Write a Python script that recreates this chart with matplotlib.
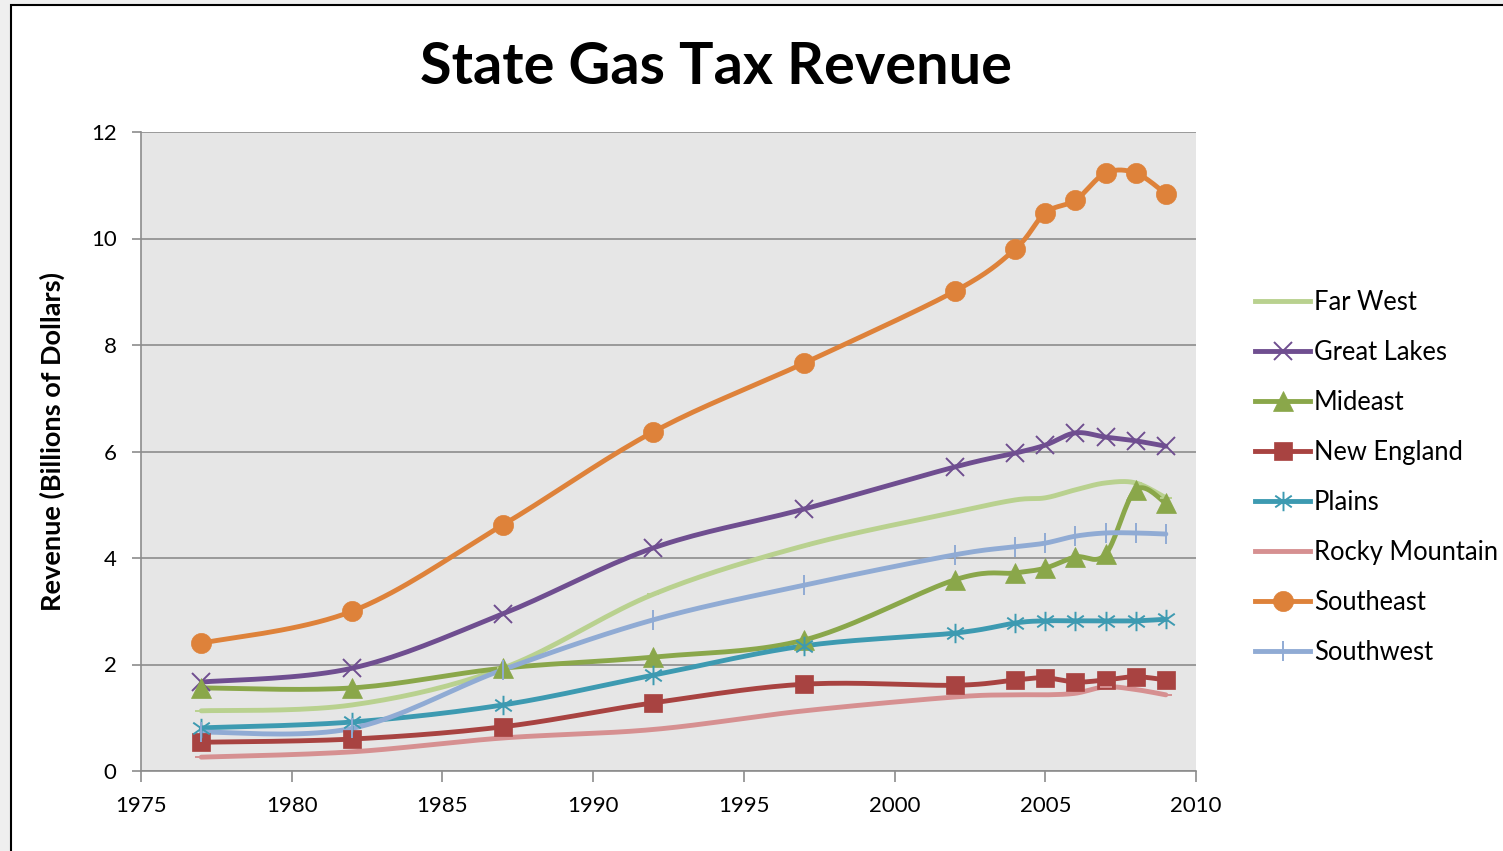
import numpy as np
import matplotlib
matplotlib.use('Agg')
import matplotlib.pyplot as plt
from matplotlib.patches import Rectangle
from matplotlib.path import Path

plt.rcParams['font.family'] = ['Lato', 'DejaVu Sans']

# Data (billions of dollars)
years = [1977, 1982, 1987, 1992, 1997, 2002, 2004, 2005, 2006, 2007, 2008, 2009]

far_west = [1.13, 1.24, 1.93, 3.32, 4.23, 4.86, 5.09, 5.13, 5.28, 5.41, 5.41, 5.13]
great_lakes = [1.67, 1.93, 2.95, 4.19, 4.92, 5.71, 5.97, 6.12, 6.35, 6.27, 6.20, 6.10]
mideast = [1.56, 1.56, 1.93, 2.14, 2.46, 3.59, 3.72, 3.81, 4.02, 4.07, 5.28, 5.03]
new_england = [0.54, 0.60, 0.83, 1.28, 1.63, 1.61, 1.71, 1.75, 1.67, 1.71, 1.77, 1.71]
plains = [0.81, 0.92, 1.24, 1.80, 2.35, 2.59, 2.78, 2.82, 2.82, 2.82, 2.82, 2.85]
rocky_mountain = [0.26, 0.36, 0.62, 0.78, 1.13, 1.39, 1.43, 1.43, 1.46, 1.58, 1.53, 1.43]
southeast = [2.40, 3.00, 4.62, 6.37, 7.66, 9.01, 9.80, 10.48, 10.72, 11.23, 11.23, 10.84]
southwest = [0.73, 0.80, 1.90, 2.84, 3.49, 4.06, 4.21, 4.28, 4.41, 4.47, 4.47, 4.45]

# Excel-like "star" marker: vertical bar plus an X
star = Path([(0, -1), (0, 1), (-0.85, -0.6), (0.85, 0.6), (-0.85, 0.6), (0.85, -0.6)],
            [Path.MOVETO, Path.LINETO] * 3)

series = [
    ('Far West', far_west, '#B9D18F', '_', 8),
    ('Great Lakes', great_lakes, '#6F4E90', 'x', 13),
    ('Mideast', mideast, '#8AA74A', '^', 14),
    ('New England', new_england, '#A84341', 's', 13.5),
    ('Plains', plains, '#3D9AB1', star, 14),
    ('Rocky Mountain', rocky_mountain, '#D69091', '_', 8),
    ('Southeast', southeast, '#DE823A', 'o', 14.5),
    ('Southwest', southwest, '#90ABD4', '|', 14),
]


def smooth(x, y, n=20):
    # Excel-style smoothed line: cubic Bezier segments with Catmull-Rom control points
    x = np.asarray(x, float)
    y = np.asarray(y, float)
    px = np.concatenate([[x[0]], x, [x[-1]]])
    py = np.concatenate([[y[0]], y, [y[-1]]])
    xs, ys = [], []
    t = np.linspace(0, 1, n)
    for i in range(1, len(px) - 2):
        p0 = np.array([px[i], py[i]])
        p3 = np.array([px[i + 1], py[i + 1]])
        c1 = p0 + (np.array([px[i + 1], py[i + 1]]) - np.array([px[i - 1], py[i - 1]])) / 6
        c2 = p3 - (np.array([px[i + 2], py[i + 2]]) - np.array([px[i], py[i]])) / 6
        b = ((1 - t) ** 3)[:, None] * p0 + (3 * (1 - t) ** 2 * t)[:, None] * c1 \
            + (3 * (1 - t) * t ** 2)[:, None] * c2 + (t ** 3)[:, None] * p3
        xs.extend(b[:, 0])
        ys.extend(b[:, 1])
    return xs, ys


fig = plt.figure(figsize=(15.03, 8.51), dpi=100)
fig.patch.set_facecolor('#EFEFEF')
frame = Rectangle((11 / 1503, -0.1), 1.2, 1.1 - 5 / 851,
                  transform=fig.transFigure, facecolor='white',
                  edgecolor='black', linewidth=1.5, zorder=-10)
fig.add_artist(frame)

ax = fig.add_axes([141 / 1503, 80 / 851, 1055 / 1503, 639 / 851])
ax.set_zorder(1)
ax.set_facecolor('#E6E6E6')

for name, vals, color, marker, ms in series:
    sx, sy = smooth(years, vals)
    ax.plot(sx, sy, color=color, lw=3.5, solid_capstyle='round', zorder=3)
    thin = isinstance(marker, Path) or marker in ('x', '|', '_')
    mew = 1.4 if thin else 0.5
    ax.plot(years, vals, linestyle='none', marker=marker, ms=ms, color=color,
            mec=color, mew=mew, zorder=4)
    # legend proxy
    ax.plot([], [], color=color, lw=3.5, marker=marker, ms=ms, mec=color,
            mew=mew, label=name)

ax.set_xlim(1975, 2010)
ax.set_ylim(0, 12)
ax.set_xticks(range(1975, 2011, 5))
ax.set_yticks(range(0, 13, 2))
ax.grid(axis='y', color='#8C8C8C', lw=1.2)
ax.set_axisbelow(True)
for s in ['top', 'right']:
    ax.spines[s].set_visible(False)
for s in ['left', 'bottom']:
    ax.spines[s].set_color('#8C8C8C')
    ax.spines[s].set_linewidth(1.2)
ax.tick_params(axis='both', colors='#8C8C8C', labelcolor='black', labelsize=16,
               width=1.2, direction='out')
ax.tick_params(axis='x', length=8, pad=10)
ax.tick_params(axis='y', length=6.5, pad=11)

ax.set_ylabel('Revenue (Billions of Dollars)', fontsize=19.5, fontweight='bold')
ax.yaxis.set_label_coords(-0.072, 0.516)

fig.text(716 / 1503, 1 - 67 / 851, 'State Gas Tax Revenue', fontsize=41.5,
         fontweight='bold', ha='center', va='center')

ax.legend(loc='center left', bbox_to_anchor=(1.056, 0.459), frameon=False,
          fontsize=18.4, handlelength=2.15, handletextpad=0.15, labelspacing=0.98,
          borderaxespad=0, borderpad=0)

fig.savefig('out.png', dpi=100, facecolor=fig.get_facecolor())
